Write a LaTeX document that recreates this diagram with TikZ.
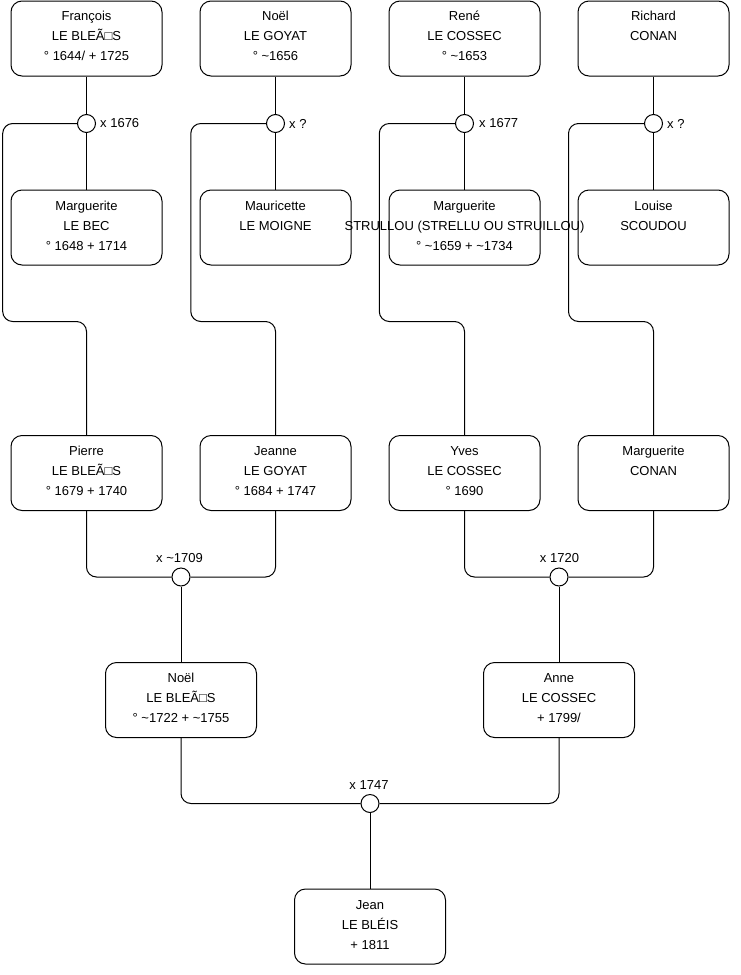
\documentclass[tikz,border=0pt]{standalone}
\usepackage{fontspec}
\setmainfont{Liberation Sans}
\usetikzlibrary{calc}
\tikzset{
  person/.style={draw=black, line width=1pt, rounded corners=11pt, minimum width=151pt, minimum height=75pt, inner sep=0pt},
  ptext/.style={anchor=base, inner sep=0pt, font=\fontsize{13pt}{15pt}\selectfont},
  union/.style={circle, draw=black, line width=1pt, minimum size=18pt, inner sep=0pt, fill=white},
  link/.style={draw=black, line width=1pt, rounded corners=10pt},
  ulabel/.style={inner sep=0pt, font=\fontsize{13pt}{15pt}\selectfont},
}
\newcommand\personbox[7]{%
  \node[person, anchor=north] (#1) at (#2,#3) {};
  \node[ptext] (#1-a) at ($(#1.north)+(0,#4)$) {#5};
  \node[ptext] (#1-b) at ($(#1.north)+(0,#4+20)$) {#6};
  \node[ptext] (#1-c) at ($(#1.north)+(0,#4+40)$) {#7};
}
\begin{document}
\begin{tikzpicture}[x=1pt,y=-1pt]
\useasboundingbox (0,0) rectangle (740,975);

% bend points
\coordinate (k1) at (2.7,321.5);
\coordinate (k2) at (190.8,321.5);
\coordinate (k3) at (379.3,321.5);
\coordinate (k4) at (568.5,321.5);

% unions
\node[union] (u1) at (86.5,123.5) {};
\node[union] (u2) at (275.5,123.5) {};
\node[union] (u3) at (464.5,123.5) {};
\node[union] (u4) at (653.5,123.5) {};
\node[union] (ua) at (181,577) {};
\node[union] (ub) at (559,577) {};
\node[union] (uc) at (370,803.5) {};

% people
\personbox{f1}{86.5}{0.5}{19.5}{François}{LE BLEÃ□S}{° 1644/ + 1725}
\personbox{f2}{275.5}{0.5}{19.5}{Noël}{LE GOYAT}{° \textasciitilde1656}
\personbox{f3}{464.5}{0.5}{19.5}{René}{LE COSSEC}{° \textasciitilde1653}
\personbox{f4}{653.5}{0.5}{19.5}{Richard}{CONAN}{}

\personbox{w1}{86.5}{189.5}{20.5}{Marguerite}{LE BEC}{° 1648 + 1714}
\personbox{w2}{275.5}{189.5}{20.5}{Mauricette}{LE MOIGNE}{}
\personbox{w3}{464.5}{189.5}{20.5}{Marguerite}{STRULLOU (STRELLU OU STRUILLOU)}{° \textasciitilde1659 + \textasciitilde1734}
\personbox{w4}{653.5}{189.5}{20.5}{Louise}{SCOUDOU}{}

\personbox{p1}{86.5}{435}{20.5}{Pierre}{LE BLEÃ□S}{° 1679 + 1740}
\personbox{p2}{275.5}{435}{20.5}{Jeanne}{LE GOYAT}{° 1684 + 1747}
\personbox{p3}{464.5}{435}{20.5}{Yves}{LE COSSEC}{° 1690}
\personbox{p4}{653.5}{435}{20.5}{Marguerite}{CONAN}{}

\personbox{n1}{181}{662}{20.5}{Noël}{LE BLEÃ□S}{° \textasciitilde1722 + \textasciitilde1755}
\personbox{n2}{559}{662}{20.5}{Anne}{LE COSSEC}{+ 1799/}

\personbox{j1}{370}{888.5}{20.5}{Jean}{LE BLÉIS}{+ 1811}

% connectors
\foreach \i in {1,2,3,4}{
  \draw[link] (f\i.south) -- (u\i.north);
  \draw[link] (u\i.south) -- (w\i.north);
  \draw[link] (u\i.west) -| (k\i) -| (p\i.north);
}
\draw[link] (p1.south) |- (ua.west);
\draw[link] (p2.south) |- (ua.east);
\draw[link] (ua.south) -- (n1.north);
\draw[link] (p3.south) |- (ub.west);
\draw[link] (p4.south) |- (ub.east);
\draw[link] (ub.south) -- (n2.north);
\draw[link] (n1.south) |- (uc.west);
\draw[link] (n2.south) |- (uc.east);
\draw[link] (uc.south) -- (j1.north);

% union labels
\node[ulabel, anchor=west] (l1) at ($(u1.east)+(4,0)$) {x 1676};
\node[ulabel, anchor=west] (l2) at ($(u2.east)+(4,0)$) {x ?};
\node[ulabel, anchor=west] (l3) at ($(u3.east)+(5,0)$) {x 1677};
\node[ulabel, anchor=west] (l4) at ($(u4.east)+(4,0)$) {x ?};
\node[ulabel] (la) at ($(ua)+(-1.5,-18.5)$) {x \textasciitilde1709};
\node[ulabel] (lb) at ($(ub)+(0.5,-18.5)$) {x 1720};
\node[ulabel] (lc) at ($(uc)+(-1,-18.5)$) {x 1747};
\end{tikzpicture}
\end{document}
